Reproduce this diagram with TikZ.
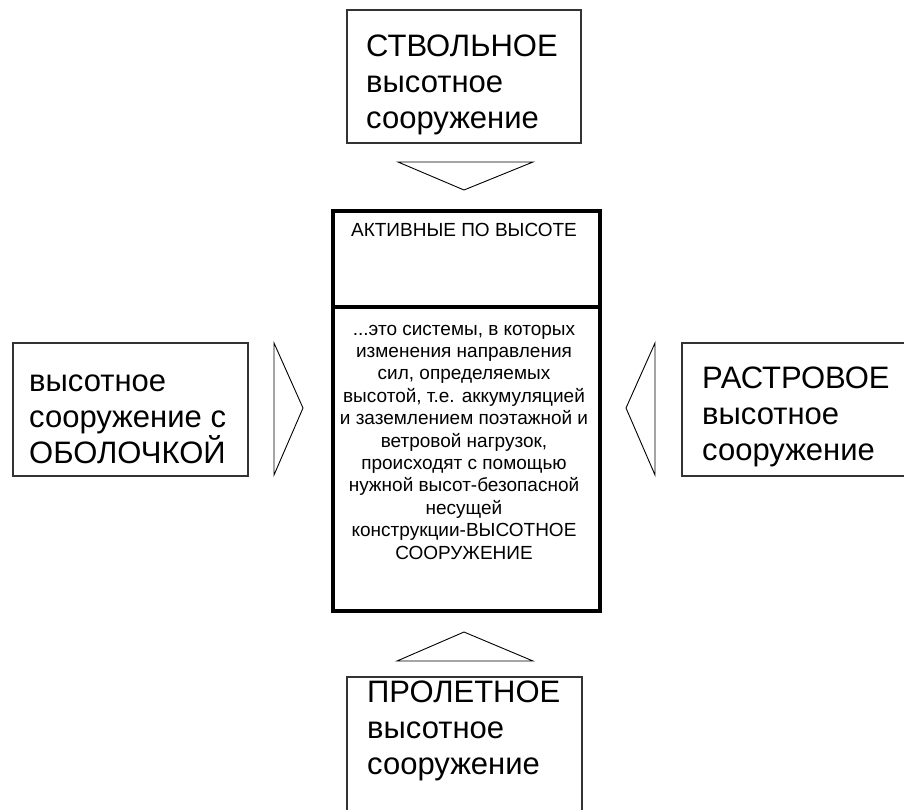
\documentclass[tikz,border=0pt]{standalone}
\usepackage{fontspec}
\setmainfont{Liberation Sans}
\usetikzlibrary{positioning}
\tikzset{
  outerbox/.style={draw=black!80, line width=1.5pt, anchor=north west, inner sep=0pt},
  midbox/.style={draw, line width=4pt, anchor=north west, inner sep=0pt, minimum width=267pt},
  bigtext/.style={anchor=base west, align=left, inner sep=0pt, font=\fontsize{31}{36}\selectfont},
  midtext/.style={anchor=base, align=center, inner sep=0pt, font=\fontsize{19}{22.4}\selectfont},
  pointer/.style={line width=0.9pt, line join=miter},
}
\begin{document}
\begin{tikzpicture}[x=1pt,y=-1pt]
  \clip (0,0) rectangle (904,809);
  \fill[white] (0,0) rectangle (904,809);
  % outer boxes
  \node[outerbox, minimum width=234pt, minimum height=133pt] (stvol) at (346,9) {};
  \node[outerbox, minimum width=235pt, minimum height=133pt] (obol) at (12,342) {};
  \node[outerbox, minimum width=260pt, minimum height=133pt] (rastr) at (681,342) {};
  \node[outerbox, minimum width=235pt, minimum height=160pt] (prolet) at (346,676) {};
  % texts (anchored at the last baseline)
  \node[bigtext] (stvoltxt) at (366,128) {СТВОЛЬНОЕ\\высотное\\сооружение};
  \node[bigtext] (oboltxt) at (29,463) {высотное\\сооружение с\\ОБОЛОЧКОЙ};
  \node[bigtext] (rastrtxt) at (702,460) {РАСТРОВОЕ\\высотное\\сооружение};
  \node[bigtext] (prolettxt) at (367,774) {ПРОЛЕТНОЕ\\высотное\\сооружение};
  % central box
  \node[midbox, minimum height=96pt] (aktiv) at (331,209) {};
  \node[midbox, minimum height=304pt] (sistema) at (331,305) {};
  \node[midtext] (aktivtxt) at (464,236) {АКТИВНЫЕ ПО ВЫСОТЕ};
  \node[midtext] (sistematxt) at (464,559) {...это системы, в которых\\изменения направления\\сил, определяемых\\высотой, т.е. аккумуляцией\\и заземлением поэтажной и\\ветровой нагрузок,\\происходят с помощью\\нужной высот-безопасной\\несущей\\конструкции-ВЫСОТНОЕ\\СООРУЖЕНИЕ};
  % pointers
  \draw[pointer] (398,162) -- (533,162) -- (464,190) -- cycle;
  \draw[pointer] (274,343) -- (303,408) -- (274,475) -- cycle;
  \draw[pointer] (655,343) -- (626,408) -- (655,475) -- cycle;
  \draw[pointer] (397,661) -- (533,661) -- (464,632) -- cycle;
\end{tikzpicture}
\end{document}
